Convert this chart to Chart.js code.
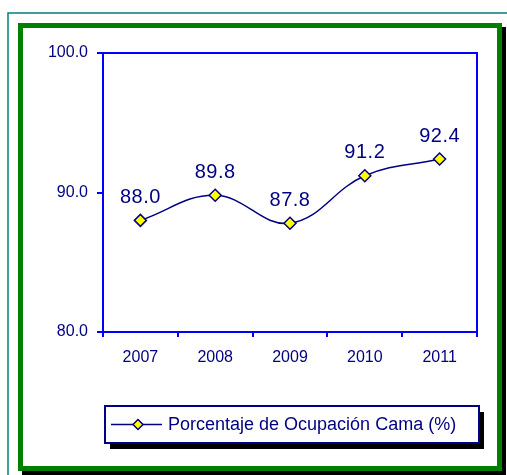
<!DOCTYPE html>
<html>
<head>
<meta charset="utf-8">
<script src="https://cdn.jsdelivr.net/npm/chart.js@4/dist/chart.umd.min.js"></script>
<style>
  html, body { margin: 0; padding: 0; background: #fff; }
  #wrap { width: 507px; height: 475px; position: relative; }
</style>
</head>
<body>
<div id="wrap"><canvas id="chart" width="507" height="475"></canvas></div>
<script>
const years = ['2007', '2008', '2009', '2010', '2011']
const ocupacion = [88.0, 89.8, 87.8, 91.2, 92.4]
const seriesLabel = 'Porcentaje de Ocupación Cama (%)'

const navy = '#000080'
const axisBlue = '#0000FF'
const markYellow = '#FFFF00'
const fontFamily = 'Arial, "Liberation Sans", sans-serif'

// outer frames: teal hairline, green border with black drop shadow
const framePlugin = {
  id: 'frame',
  beforeDraw(chart) {
    const ctx = chart.ctx
    ctx.save()
    ctx.fillStyle = '#fff'
    ctx.fillRect(0, 0, chart.width, chart.height)
    ctx.strokeStyle = '#008080'
    ctx.lineWidth = 1.5
    ctx.strokeRect(8, 13, 540, 500)
    ctx.fillStyle = '#000'
    ctx.fillRect(22, 27, 484, 448)
    ctx.fillStyle = '#008000'
    ctx.fillRect(18, 23, 484, 448)
    ctx.fillStyle = '#fff'
    ctx.fillRect(23, 28, 474, 438)
    ctx.restore()
  },
  afterDraw(chart) {
    const ctx = chart.ctx
    const a = chart.chartArea
    ctx.save()
    ctx.strokeStyle = axisBlue
    ctx.lineWidth = 2
    ctx.strokeRect(a.left, a.top, a.right - a.left, a.bottom - a.top)
    ctx.restore()
  }
}

// value labels above every point
const valueLabels = {
  id: 'valueLabels',
  afterDatasetsDraw(chart) {
    const ctx = chart.ctx
    const meta = chart.getDatasetMeta(0)
    const data = chart.data.datasets[0].data
    ctx.save()
    ctx.fillStyle = navy
    ctx.font = '20px ' + fontFamily
    ctx.letterSpacing = '0.5px'
    ctx.textAlign = 'center'
    ctx.textBaseline = 'middle'
    meta.data.forEach((pt, i) => {
      ctx.fillText(data[i].toFixed(1), pt.x, pt.y - 23)
    })
    ctx.restore()
  }
}

// boxed legend with shadow under the plot
const boxLegend = {
  id: 'boxLegend',
  afterDraw(chart) {
    const ctx = chart.ctx
    const ds = chart.data.datasets[0]
    const x = 105, y = 406, w = 374, h = 37
    ctx.save()
    ctx.fillStyle = '#000'
    ctx.fillRect(x + 5, y + 6, w, h)
    ctx.fillStyle = '#fff'
    ctx.fillRect(x, y, w, h)
    ctx.strokeStyle = navy
    ctx.lineWidth = 2
    ctx.strokeRect(x, y, w, h)
    const cy = y + h / 2
    ctx.strokeStyle = ds.borderColor
    ctx.lineWidth = 1.5
    ctx.beginPath()
    ctx.moveTo(x + 6, cy)
    ctx.lineTo(x + 57, cy)
    ctx.stroke()
    const cx = x + 33
    ctx.beginPath()
    ctx.moveTo(cx, cy - 5)
    ctx.lineTo(cx + 5, cy)
    ctx.lineTo(cx, cy + 5)
    ctx.lineTo(cx - 5, cy)
    ctx.closePath()
    ctx.fillStyle = ds.pointBackgroundColor
    ctx.fill()
    ctx.stroke()
    ctx.fillStyle = navy
    ctx.font = '18px ' + fontFamily
    ctx.textAlign = 'left'
    ctx.textBaseline = 'middle'
    ctx.fillText(ds.label, x + 63, cy + 1)
    ctx.restore()
  }
}

const ctx = document.getElementById('chart')
new Chart(ctx, {
  type: 'line',
  data: {
    labels: years,
    datasets: [
      {
        label: seriesLabel,
        data: ocupacion,
        borderColor: navy,
        borderWidth: 1.5,
        tension: 0.4,
        pointStyle: 'rectRot',
        pointRadius: 6,
        pointBackgroundColor: markYellow,
        pointBorderColor: navy,
        pointBorderWidth: 1.5
      }
    ]
  },
  options: {
    responsive: false,
    animation: false,
    events: [],
    layout: {
      padding: { top: 53, right: 30, left: 0, bottom: 0 }
    },
    scales: {
      x: {
        offset: true,
        grid: {
          offset: true,
          drawOnChartArea: false,
          color: axisBlue,
          tickLength: 5,
          lineWidth: 2
        },
        border: { color: axisBlue, width: 2 },
        ticks: {
          color: navy,
          font: { size: 16, family: fontFamily },
          padding: 11,
          maxRotation: 0
        },
        afterFit(scale) { scale.height = 143 }
      },
      y: {
        min: 80,
        max: 100,
        grid: {
          drawOnChartArea: false,
          color: axisBlue,
          tickLength: 6,
          lineWidth: 2
        },
        border: { color: axisBlue, width: 2 },
        ticks: {
          stepSize: 10,
          color: navy,
          font: { size: 16, family: fontFamily },
          padding: 9,
          callback: (v) => v.toFixed(1)
        },
        afterFit(scale) { scale.width = 103 }
      }
    },
    plugins: {
      legend: { display: false },
      tooltip: { enabled: false }
    }
  },
  plugins: [framePlugin, valueLabels, boxLegend]
})
</script>
</body>
</html>
